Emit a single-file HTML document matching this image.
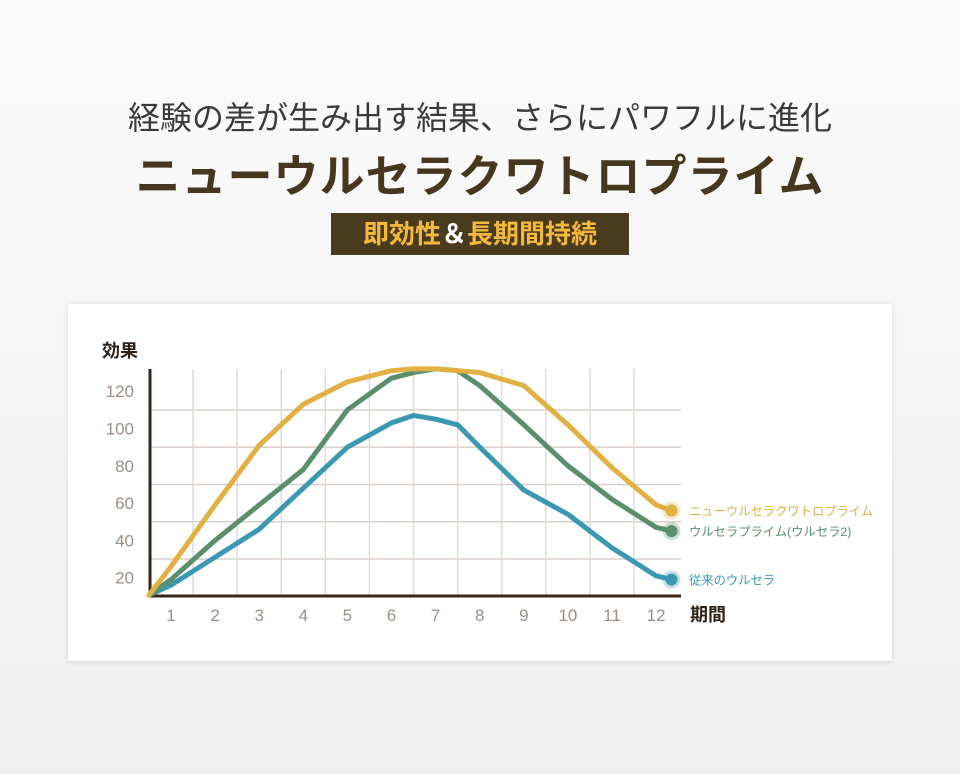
<!DOCTYPE html>
<html><head><meta charset="utf-8"><style>
body{margin:0;width:960px;height:774px;background:linear-gradient(#fbfbfb,#efefef);font-family:"Liberation Sans","Noto Sans CJK JP",sans-serif;position:relative;overflow:hidden}
.t1{position:absolute;top:93px;left:0;width:960px;text-align:center;font-size:32px;color:#3a3a3a}
.t2{position:absolute;top:140px;left:0;width:960px;text-align:center;font-size:45px;font-weight:bold;color:#46371f;letter-spacing:1px}
.badge{position:absolute;left:331px;top:213px;width:298px;height:42px;background:#4a3a1e;color:#f2b93c;font-size:26px;font-weight:bold;text-align:center;line-height:42px}
.badge span{color:#fff}
.card{position:absolute;left:68px;top:304px;width:824px;height:357px;background:#fff;box-shadow:0 1px 5px rgba(0,0,0,0.12)}
svg{position:absolute;left:0;top:0}
</style></head><body>
<div class="t1">経験の差が生み出す結果、さらにパワフルに進化</div>
<div class="t2">ニューウルセラクワトロプライム</div>
<div class="badge">即効性<span>＆</span>長期間持続</div>
<div class="card"></div>
<svg width="960" height="774" id="chart"></svg>
<script>
const xs=[0.5,1,2,3,4,5,6,6.5,7,7.5,8,9,10,11,12,12.35];
const gold=[10.7,26,59,91,113,125,131,132,132,131,130,123,102,79,59,56];
const green=[10.7,19,40,59,78,110,127,130,132,131,123,102,80,62,47,45];
const blue=[10.7,16,31,46,68,90,103,107,105,102,90,67,54,36,21,19];
const xLabels=["1","2","3","4","5","6","7","8","9","10","11","12"];
const yTicks=[20,40,60,80,100,120];
const gridVals=[30,50,70,90,110];
const X=i=>171+(i-1)*44.1;
const Y=v=>615-v*1.865;
const svg=document.getElementById('chart');
const NS='http://www.w3.org/2000/svg';
function mk(t,a){const e=document.createElementNS(NS,t);for(const k in a)e.setAttribute(k,a[k]);svg.appendChild(e);return e;}
gridVals.forEach(v=>{const l=mk('line',{x1:150,x2:681,y1:Y(v),y2:Y(v),stroke:'#d8cfca','stroke-width':1.5});

});
for(let i=1;i<=11;i++){const l=mk('line',{x1:X(i+0.5),x2:X(i+0.5),y1:369,y2:595,stroke:'#e2dad6','stroke-width':1.5});

}
yTicks.forEach(v=>{const t=mk('text',{x:134,y:Y(v)+6,'text-anchor':'end','font-size':17,fill:'#9b8e86'});t.textContent=v;

});
xLabels.forEach((s,i)=>{const t=mk('text',{x:X(i+1),y:621,'text-anchor':'middle','font-size':17,fill:'#9b8e86'});t.textContent=s;

});
const ya=mk('line',{x1:150,x2:150,y1:369,y2:597,stroke:'#3a2614','stroke-width':3});


const xa=mk('line',{x1:149,x2:681,y1:596,y2:596,stroke:'#3a2614','stroke-width':3});


const yt=mk('text',{x:102,y:357,'font-size':18,'font-weight':'bold',fill:'#2e2116'});yt.textContent='効果';


const xt=mk('text',{x:690,y:621,'font-size':18,'font-weight':'bold',fill:'#2e2116'});xt.textContent='期間';


const series=[[blue,'#3a98b2','従来のウルセラ'],[green,'#5a8f6e','ウルセラプライム(ウルセラ2)'],[gold,'#e2b043','ニューウルセラクワトロプライム']];
series.forEach(([d,c,name])=>{
 const p=mk('polyline',{points:d.map((v,i)=>X(xs[i])+','+Y(v)).join(' '),fill:'none',stroke:c,'stroke-width':5,'stroke-linejoin':'round','stroke-linecap':'round'});
 
 
 const ex=X(xs[xs.length-1]),ey=Y(d[d.length-1]);
 const h=mk('circle',{cx:ex,cy:ey,r:9,fill:c,opacity:0.3});
 
 
 const dt=mk('circle',{cx:ex,cy:ey,r:6,fill:c});
 
 
 const t=mk('text',{x:689,y:ey+5,'font-size':12.3,fill:c});t.textContent=name;
 
 
});
</script>
</body></html>
